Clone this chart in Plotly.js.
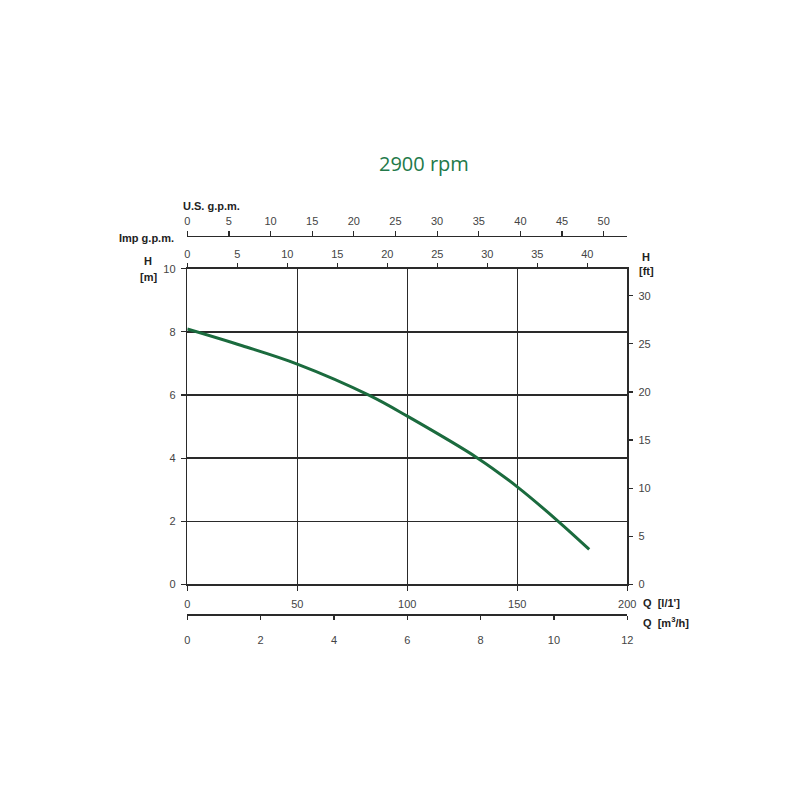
<!DOCTYPE html>
<html>
<head>
<meta charset="utf-8">
<script src="https://cdn.plot.ly/plotly-3.0.1.min.js"></script>
<style>html,body{margin:0;padding:0;background:#fff;}#chart{width:800px;height:800px;}</style>
</head>
<body>
<div id="chart"></div>
<script>
// Flow Q [l/min] and head H [m]
const flowLmin = [0, 25, 50, 83, 100, 132, 150, 168.6, 182.7];
const headM = [8.09, 7.56, 6.98, 5.98, 5.33, 4.0, 3.09, 2.0, 1.11];

// Axis tick values
const lminTicks = [0, 50, 100, 150, 200];
const m3hTicks = [0, 2, 4, 6, 8, 10, 12];
const usGpmTicks = [0, 5, 10, 15, 20, 25, 30, 35, 40, 45, 50];
const impGpmTicks = [0, 5, 10, 15, 20, 25, 30, 35, 40];
const headMTicks = [0, 2, 4, 6, 8, 10];
const headFtTicks = [0, 5, 10, 15, 20, 25, 30];

// Unit conversions
const L_PER_USGAL = 3.785411784;
const L_PER_IMPGAL = 4.54609;
const M_PER_FT = 0.3048;
const qMax = 200, hMax = 10;

const lineCol = '#2a2a2a';
const tickFont = {family: 'Liberation Sans, Arial, sans-serif', size: 11, color: '#444'};
const labFont = {family: 'Liberation Sans, Arial, sans-serif', size: 11, color: '#222'};

const traces = [
  {x: flowLmin, y: headM, xaxis: 'x', yaxis: 'y', mode: 'lines',
   line: {color: '#1b6b3e', width: 3, shape: 'spline', smoothing: 1}, hoverinfo: 'skip'},
  {x: flowLmin.map(q => q * 0.06), y: headM, xaxis: 'x2', yaxis: 'y', mode: 'lines',
   line: {width: 0}, opacity: 0, hoverinfo: 'skip'},
  {x: flowLmin.map(q => q / L_PER_USGAL), y: headM, xaxis: 'x3', yaxis: 'y', mode: 'lines',
   line: {width: 0}, opacity: 0, hoverinfo: 'skip'},
  {x: flowLmin.map(q => q / L_PER_IMPGAL), y: headM, xaxis: 'x4', yaxis: 'y', mode: 'lines',
   line: {width: 0}, opacity: 0, hoverinfo: 'skip'},
  {x: flowLmin, y: headM.map(h => h / M_PER_FT), xaxis: 'x', yaxis: 'y2', mode: 'lines',
   line: {width: 0}, opacity: 0, hoverinfo: 'skip'}
];

const common = {showline: true, linecolor: lineCol, linewidth: 1.5, ticks: 'outside',
  ticklen: 5, tickcolor: lineCol, tickwidth: 1.2, zeroline: false, tickfont: tickFont,
  fixedrange: true, tickmode: 'array'};

const dom = [0.2341, 0.7841];

function lab(text, px, py, xanchor) {
  return {text: text, x: px / 800, y: 1 - py / 800, xref: 'paper', yref: 'paper',
    xanchor: xanchor || 'center', yanchor: 'middle', showarrow: false, font: labFont};
}

const layout = {
  width: 800, height: 800,
  margin: {l: 0, r: 0, t: 0, b: 0},
  paper_bgcolor: '#fff', plot_bgcolor: '#fff',
  showlegend: false,
  xaxis: Object.assign({}, common, {domain: dom, range: [0, qMax], anchor: 'y', side: 'bottom',
    tickvals: lminTicks, showgrid: true, gridcolor: lineCol, gridwidth: 1.5, mirror: true,
    ticklabelstandoff: 4}),
  xaxis2: Object.assign({}, common, {domain: dom, range: [0, qMax * 0.06], overlaying: 'x',
    anchor: 'free', position: 1 - 614 / 800, side: 'bottom', tickvals: m3hTicks,
    showgrid: false, ticklen: 4, ticklabelstandoff: 11}),
  xaxis3: Object.assign({}, common, {domain: dom, range: [0, qMax / L_PER_USGAL], overlaying: 'x',
    anchor: 'free', position: 1 - 235.7 / 800, side: 'top', tickvals: usGpmTicks,
    showgrid: false, ticklen: 5, ticklabelstandoff: 1}),
  xaxis4: Object.assign({}, common, {domain: dom, range: [0, qMax / L_PER_IMPGAL], overlaying: 'x',
    anchor: 'y', side: 'top', tickvals: impGpmTicks, showgrid: false, showline: false,
    ticklen: 5, ticklabelstandoff: 0}),
  yaxis: Object.assign({}, common, {domain: [0.2695, 0.6641], range: [0, hMax], anchor: 'x',
    tickvals: headMTicks, showgrid: true, gridcolor: lineCol, gridwidth: 1.5, mirror: true,
    ticklabelstandoff: 3}),
  yaxis2: Object.assign({}, common, {domain: [0.2695, 0.6641], range: [0, hMax / M_PER_FT],
    overlaying: 'y', anchor: 'x', side: 'right', tickvals: headFtTicks, showgrid: false,
    showline: false, ticklabelstandoff: 3}),
  annotations: [
    {text: '2900 rpm', x: 424 / 800, y: 1 - 163 / 800, xref: 'paper', yref: 'paper',
     xanchor: 'center', yanchor: 'middle', showarrow: false,
     font: {family: 'Open Sans, Noto Sans, sans-serif', size: 20, color: '#23794a'}},
    lab('<b>U.S. g.p.m.</b>', 181, 206, 'left'),
    lab('<b>Imp g.p.m.</b>', 176, 238, 'right'),
    lab('<b>H</b>', 148, 261),
    lab('<b>[m]</b>', 148, 277),
    lab('<b>H</b>', 646, 257),
    lab('<b>[ft]</b>', 646, 271),
    lab("<b>Q  [l/1']</b>", 641, 603, 'left'),
    lab('<b>Q  [m<sup>3</sup>/h]</b>', 641, 622, 'left')
  ]
};

Plotly.newPlot('chart', traces, layout, {staticPlot: true, displayModeBar: false});
</script>
</body>
</html>
